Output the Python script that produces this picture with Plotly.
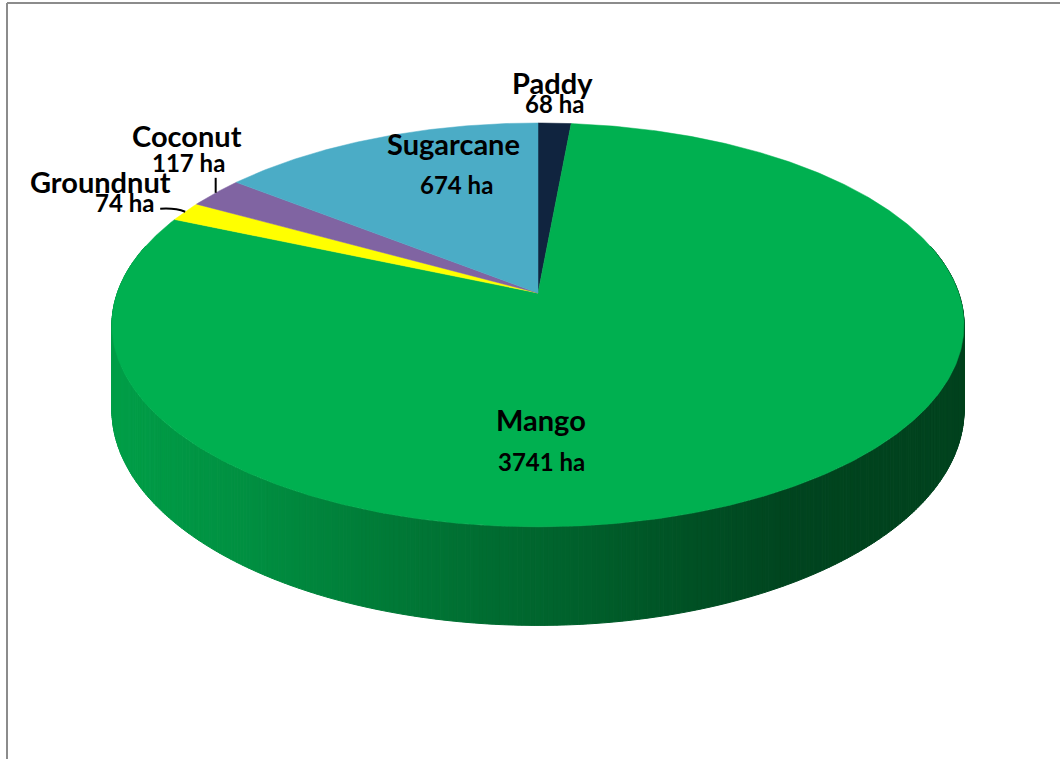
import numpy as np
import plotly.graph_objects as go

# Planted area by crop (hectares), listed clockwise from 12 o'clock
crops = ["Paddy", "Mango", "Groundnut", "Coconut", "Sugarcane"]
area_ha = [68, 3741, 74, 117, 674]
value_labels = [f"{v} ha" for v in area_ha]
slice_colors = ["#10243F", "#00B050", "#FFFF00", "#8064A2", "#4BACC6"]

# Label placement: anchor radius (fraction of the rim) at the slice's mid-angle,
# pixel offsets for name / value text, and whether a leader line is drawn
label_style = {
    "Paddy":     dict(r=1.0, name=(-2, -41), value=(0, -20), leader=None),
    "Mango":     dict(r=0.5, name=(-112, 36), value=(-112, 78), leader=None),
    "Groundnut": dict(r=1.0, name=(-85, -30), value=(-61, -9), leader="curve"),
    "Coconut":   dict(r=1.0, name=(-29, -57), value=(-27, -30), leader="up"),
    "Sugarcane": dict(r=0.6, name=(17, -52), value=(20, -11), leader=None),
}

W, H = 1060, 759
# Perspective view of the pie disc (pixel space of the figure)
CX, CY = 538, 293          # projected centre of the disc
AX, BY = 420.7, 196.9      # horizontal / vertical half-axes before perspective
PERSP = 0.158              # foreshortening towards the back
DEPTH = 83                 # thickness of the pie
SIDE_SHADE = [(0.0, 0.90), (0.15, 0.82), (0.3, 0.71), (0.5, 0.58),
              (0.7, 0.45), (0.8, 0.39), (1.0, 0.38)]


def project(phi_deg, r=1.0, drop=0.0):
    """Map polar position on the disc (phi clockwise from 12 o'clock) to pixels."""
    phi = np.radians(phi_deg)
    u, v = r * np.sin(phi), r * np.cos(phi)
    d = 1 + PERSP * v
    return CX + AX * u / d, CY - BY * v / d + drop / d


def hex_rgb(h):
    h = h.lstrip("#")
    return tuple(int(h[i:i + 2], 16) for i in (0, 2, 4))


def shade(color, x):
    xs_left, xs_right = project(270)[0], project(90)[0]
    t = min(max((x - xs_left) / (xs_right - xs_left), 0), 1)
    ts = [s[0] for s in SIDE_SHADE]
    fs = [s[1] for s in SIDE_SHADE]
    f = np.interp(t, ts, fs)
    r, g, b = hex_rgb(color)
    return f"rgb({int(r * f)},{int(g * f)},{int(b * f)})"


total = sum(area_ha)
bounds = np.concatenate([[0], np.cumsum(area_ha) / total * 360.0])

shapes = []

# --- side wall of the pie (drawn beneath the top face) ---
strips = []
for i, col in enumerate(slice_colors):
    a0, a1 = bounds[i], bounds[i + 1]
    n = max(int((a1 - a0) / 0.5), 1)
    phis = np.linspace(a0, a1, n + 1)
    for p0, p1 in zip(phis[:-1], phis[1:]):
        pm = 0.5 * (p0 + p1)
        if np.cos(np.radians(pm)) > 0.25:
            continue
        t0, t1 = project(p0), project(p1)
        b0, b1 = project(p0, drop=DEPTH), project(p1, drop=DEPTH)
        strips.append((np.cos(np.radians(pm)), col, t0, t1, b1, b0))

strips.sort(key=lambda s: -s[0])  # back to front
for _, col, t0, t1, b1, b0 in strips:
    xm = 0.25 * (t0[0] + t1[0] + b0[0] + b1[0])
    c = shade(col, xm)
    path = (f"M{t0[0]:.2f},{t0[1]:.2f} L{t1[0]:.2f},{t1[1]:.2f} "
            f"L{b1[0]:.2f},{b1[1]:.2f} L{b0[0]:.2f},{b0[1]:.2f} Z")
    shapes.append(dict(type="path", path=path, xref="x", yref="y",
                       fillcolor=c, line=dict(color=c, width=1), layer="below"))

fig = go.Figure()

# --- top face: one wedge per crop ---
for i, (name, col) in enumerate(zip(crops, slice_colors)):
    a0, a1 = bounds[i], bounds[i + 1]
    phis = np.linspace(a0, a1, max(int((a1 - a0) * 2), 2) + 1)
    xs, ys = zip(*[project(p) for p in phis])
    fig.add_trace(go.Scatter(
        x=[CX, *xs, CX], y=[CY, *ys, CY], mode="lines", fill="toself",
        fillcolor=col, line=dict(color=col, width=0.5), name=name,
        hoverinfo="skip", showlegend=False))

# --- data labels ---
annotations = []
name_font = dict(family="Lato", size=29, color="#000000", weight=700)
value_font = dict(family="Lato", size=24, color="#000000", weight=700)
for i, name in enumerate(crops):
    st = label_style[name]
    mid = 0.5 * (bounds[i] + bounds[i + 1])
    ax_, ay_ = project(mid, r=st["r"])
    annotations.append(dict(x=ax_ + st["name"][0], y=ay_ + st["name"][1],
                            text=name, showarrow=False, font=name_font,
                            xanchor="center", yanchor="middle"))
    annotations.append(dict(x=ax_ + st["value"][0], y=ay_ + st["value"][1],
                            text=value_labels[i], showarrow=False, font=value_font,
                            xanchor="center", yanchor="middle"))
    if st["leader"] == "up":
        shapes.append(dict(type="line", xref="x", yref="y", x0=ax_, y0=ay_,
                           x1=ax_, y1=ay_ - 15, line=dict(color="black", width=2),
                           layer="above"))
    elif st["leader"] == "curve":
        ex, ey = ax_ - 25, ay_ - 3
        shapes.append(dict(type="path", xref="x", yref="y",
                           path=f"M{ex:.1f},{ey:.1f} Q{ax_ - 10:.1f},{ay_ - 4:.1f} {ax_:.1f},{ay_:.1f}",
                           line=dict(color="black", width=2), layer="above"))

# chart-area frame (top and left edges)
shapes.append(dict(type="line", xref="x", yref="y", x0=7, y0=3, x1=W, y1=3,
                   line=dict(color="#8C8C8C", width=2)))
shapes.append(dict(type="line", xref="x", yref="y", x0=7, y0=3, x1=7, y1=H,
                   line=dict(color="#8C8C8C", width=2)))

fig.update_layout(
    width=W, height=H, margin=dict(l=0, r=0, t=0, b=0),
    paper_bgcolor="white", plot_bgcolor="white",
    xaxis=dict(range=[0, W], visible=False, fixedrange=True),
    yaxis=dict(range=[H, 0], visible=False, fixedrange=True),
    shapes=shapes, annotations=annotations, showlegend=False,
)

fig.write_html("out.html")
